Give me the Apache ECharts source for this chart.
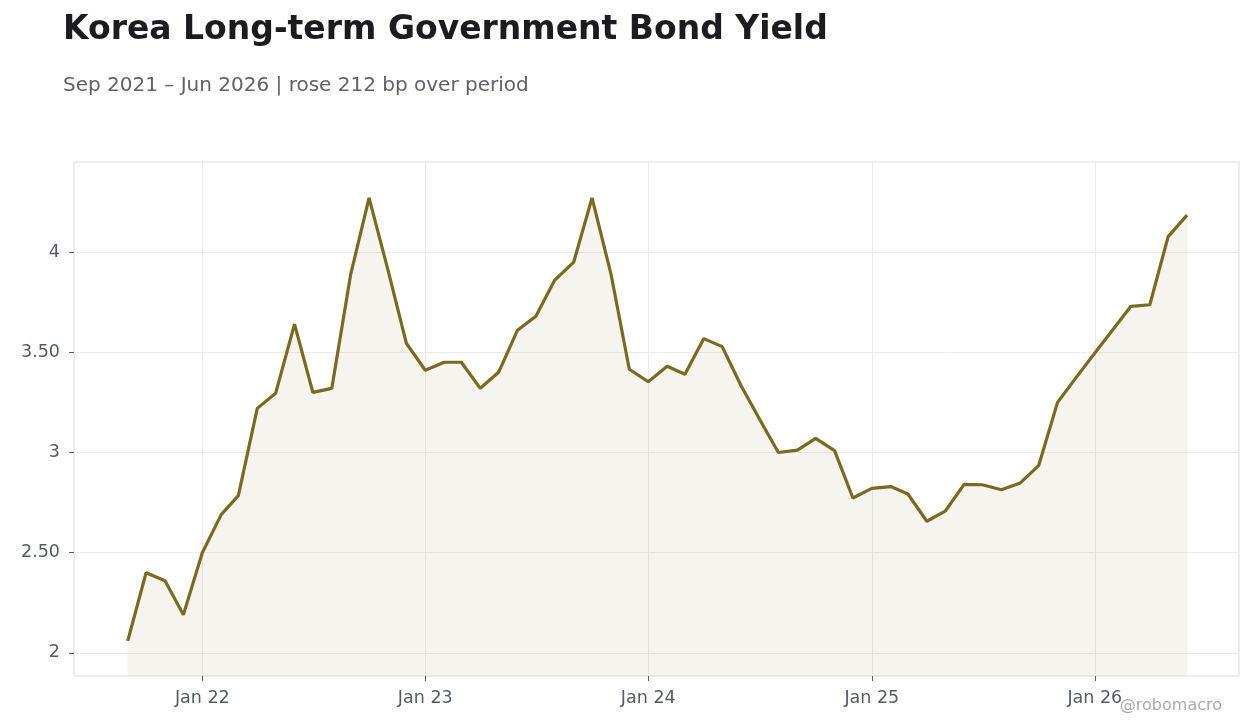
<!DOCTYPE html>
<html>
<head>
<meta charset="utf-8">
<title>Korea Long-term Government Bond Yield</title>
<script src="https://cdn.jsdelivr.net/npm/echarts@6/dist/echarts.min.js"></script>
<style>
  html, body { margin: 0; padding: 0; background: #fff; }
  #chart { width: 1260px; height: 728px; }
</style>
</head>
<body>
<div id="chart"></div>
<script>
// monthly observations, first of each month
const months = [
  '2021-09', '2021-10', '2021-11', '2021-12',
  '2022-01', '2022-02', '2022-03', '2022-04', '2022-05', '2022-06',
  '2022-07', '2022-08', '2022-09', '2022-10', '2022-11', '2022-12',
  '2023-01', '2023-02', '2023-03', '2023-04', '2023-05', '2023-06',
  '2023-07', '2023-08', '2023-09', '2023-10', '2023-11', '2023-12',
  '2024-01', '2024-02', '2024-03', '2024-04', '2024-05', '2024-06',
  '2024-07', '2024-08', '2024-09', '2024-10', '2024-11', '2024-12',
  '2025-01', '2025-02', '2025-03', '2025-04', '2025-05', '2025-06',
  '2025-07', '2025-08', '2025-09', '2025-10', '2025-11', '2025-12',
  '2026-01', '2026-02', '2026-03', '2026-04', '2026-05', '2026-06'
];

// yield, %
const yields = [
  2.06, 2.40, 2.36, 2.19,
  2.50, 2.69, 2.785, 3.22, 3.295, 3.64, 3.30, 3.32, 3.89, 4.27, 3.91, 3.545,
  3.41, 3.45, 3.45, 3.32, 3.40, 3.61, 3.68, 3.86, 3.95, 4.27, 3.89, 3.415,
  3.353, 3.43, 3.39, 3.568, 3.528, 3.333, 3.167, 3.00, 3.012, 3.07, 3.009, 2.773,
  2.821, 2.83, 2.793, 2.657, 2.707, 2.841, 2.839, 2.814, 2.848, 2.934, 3.25, 3.372,
  3.496, 3.618, 3.729, 3.737, 4.077, 4.184
];

const yTicks = [2, 2.5, 3, 3.5, 4];
const xTickYears = [2022, 2023, 2024, 2025, 2026];

const titleText = 'Korea Long-term Government Bond Yield';
const subText = 'Sep 2021 – Jun 2026 | rose 212 bp over period';

const FONT = '"DejaVu Sans", Verdana, sans-serif';
const LINE = '#7b6a1d';

// month string -> timestamp (local time, 1st of month)
function toTime(s) {
  let p = s.split('-');
  return new Date(+p[0], +p[1] - 1, 1).getTime();
}

let myChart = echarts.init(document.getElementById('chart'));

let seriesData = months.map((m, i) => [toTime(m), yields[i]]);
let janTicks = xTickYears.map(y => new Date(y, 0, 1).getTime());

myChart.setOption({
  animation: false,
  backgroundColor: '#fff',
  textStyle: { fontFamily: FONT },
  title: [
    {
      text: titleText,
      left: 63, top: 14, padding: 0,
      textStyle: { fontFamily: FONT, fontSize: 33, fontWeight: 'bold', color: '#1b1b20' }
    },
    {
      text: subText,
      left: 63, top: 76, padding: 0,
      textStyle: { fontFamily: FONT, fontSize: 20, fontWeight: 'normal', color: '#60616a' }
    }
  ],
  grid: {
    left: 74, right: 21, top: 162, bottom: 52,
    show: true, borderColor: '#dddddd', borderWidth: 1
  },
  xAxis: {
    type: 'value',
    min: new Date(2021, 5, 5).getTime(),
    max: new Date(2026, 7, 25).getTime(),
    axisLine: { show: false },
    axisTick: { show: true, length: 5, customValues: janTicks, lineStyle: { color: '#5a5d66' } },
    axisLabel: {
      customValues: janTicks,
      margin: 13,
      fontSize: 17.5, color: '#565a66', fontFamily: FONT,
      formatter: v => 'Jan ' + String(new Date(v).getFullYear()).slice(2)
    },
    splitLine: { show: true, lineStyle: { color: '#ebebeb', width: 1 } }
  },
  yAxis: {
    type: 'value',
    min: 1.885, max: 4.449,
    axisLine: { show: false },
    axisTick: { show: true, length: 5, customValues: yTicks, lineStyle: { color: '#5a5d66' } },
    axisLabel: {
      customValues: yTicks,
      margin: 14,
      fontSize: 17.5, color: '#565a66', fontFamily: FONT,
      formatter: v => Number.isInteger(v) ? String(v) : v.toFixed(2)
    },
    splitLine: { show: true, lineStyle: { color: '#ebebeb', width: 1 } }
  },
  series: [{
    type: 'line',
    data: seriesData,
    showSymbol: false,
    lineStyle: { color: LINE, width: 3.2 },
    itemStyle: { color: LINE },
    areaStyle: { color: 'rgba(123,106,29,0.105)', origin: 'start' }
  }],
  graphic: [{
    type: 'text',
    right: 38, bottom: 14,
    style: { text: '@robomacro', fontFamily: FONT, fontSize: 16, fill: '#ababab' }
  }]
});
</script>
</body>
</html>
